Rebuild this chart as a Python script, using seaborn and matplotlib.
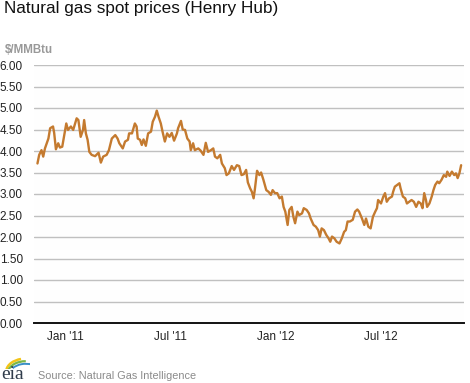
import matplotlib
matplotlib.use("Agg")
import matplotlib.pyplot as plt
import seaborn as sns
import pandas as pd
from matplotlib.patches import Arc

# ---- data ----
dates = [
    "2010-11-13", "2010-11-16", "2010-11-20", "2010-11-23", "2010-11-26", "2010-12-02", "2010-12-05",
    "2010-12-10", "2010-12-12", "2010-12-15", "2010-12-19", "2010-12-22", "2010-12-26", "2011-01-02",
    "2011-01-05", "2011-01-10", "2011-01-14", "2011-01-20", "2011-01-23", "2011-01-27", "2011-01-31",
    "2011-02-02", "2011-02-05", "2011-02-08", "2011-02-11", "2011-02-15", "2011-02-21", "2011-02-27",
    "2011-03-03", "2011-03-07", "2011-03-13", "2011-03-17", "2011-03-22", "2011-03-28", "2011-04-01",
    "2011-04-04", "2011-04-10", "2011-04-14", "2011-04-19", "2011-04-21", "2011-04-26", "2011-05-01",
    "2011-05-04", "2011-05-06", "2011-05-10", "2011-05-13", "2011-05-16", "2011-05-20", "2011-05-24",
    "2011-05-29", "2011-06-01", "2011-06-05", "2011-06-08", "2011-06-11", "2011-06-15", "2011-06-18",
    "2011-06-22", "2011-06-26", "2011-06-30", "2011-07-04", "2011-07-08", "2011-07-13", "2011-07-15",
    "2011-07-20", "2011-07-23", "2011-07-27", "2011-07-31", "2011-08-04", "2011-08-06", "2011-08-10",
    "2011-08-13", "2011-08-19", "2011-08-23", "2011-08-28", "2011-09-01", "2011-09-05", "2011-09-10",
    "2011-09-14", "2011-09-17", "2011-09-21", "2011-09-26", "2011-09-29", "2011-10-04", "2011-10-07",
    "2011-10-11", "2011-10-16", "2011-10-20", "2011-10-25", "2011-10-29", "2011-11-02", "2011-11-06",
    "2011-11-10", "2011-11-13", "2011-11-17", "2011-11-20", "2011-11-23", "2011-11-25", "2011-11-29",
    "2011-12-03", "2011-12-06", "2011-12-10", "2011-12-15", "2011-12-19", "2011-12-23", "2011-12-26",
    "2011-12-30", "2012-01-03", "2012-01-07", "2012-01-11", "2012-01-14", "2012-01-17", "2012-01-21",
    "2012-01-24", "2012-01-28", "2012-01-31", "2012-02-03", "2012-02-07", "2012-02-10", "2012-02-15",
    "2012-02-18", "2012-02-23", "2012-02-27", "2012-03-01", "2012-03-06", "2012-03-10", "2012-03-14",
    "2012-03-17", "2012-03-20", "2012-03-24", "2012-03-28", "2012-04-01", "2012-04-04", "2012-04-07",
    "2012-04-11", "2012-04-15", "2012-04-20", "2012-04-24", "2012-04-28", "2012-05-01", "2012-05-04",
    "2012-05-08", "2012-05-13", "2012-05-17", "2012-05-21", "2012-05-24", "2012-05-29", "2012-06-02",
    "2012-06-05", "2012-06-09", "2012-06-13", "2012-06-17", "2012-06-21", "2012-06-24", "2012-06-26",
    "2012-07-01", "2012-07-05", "2012-07-08", "2012-07-11", "2012-07-15", "2012-07-20", "2012-07-22",
    "2012-07-25", "2012-07-29", "2012-08-02", "2012-08-04", "2012-08-08", "2012-08-12", "2012-08-15",
    "2012-08-19", "2012-08-23", "2012-08-27", "2012-08-31", "2012-09-04", "2012-09-08", "2012-09-11",
    "2012-09-14", "2012-09-17", "2012-09-19", "2012-09-23", "2012-09-27", "2012-09-30", "2012-10-03",
    "2012-10-07", "2012-10-10", "2012-10-14", "2012-10-18", "2012-10-22", "2012-10-24", "2012-10-28",
    "2012-11-01", "2012-11-05", "2012-11-08", "2012-11-11", "2012-11-14", "2012-11-17",
]
prices = [
    3.71, 3.91, 4.02, 3.87, 4.06, 4.29, 4.53,
    4.57, 4.42, 4.04, 4.18, 4.08, 4.10, 4.64,
    4.49, 4.57, 4.49, 4.76, 4.72, 4.33, 4.49,
    4.72, 4.41, 4.26, 3.98, 3.91, 3.88, 3.96,
    3.73, 3.87, 3.91, 4.02, 4.29, 4.37, 4.29,
    4.18, 4.06, 4.22, 4.26, 4.41, 4.41, 4.64,
    4.57, 4.29, 4.26, 4.14, 4.27, 4.12, 4.41,
    4.45, 4.68, 4.80, 4.94, 4.80, 4.64, 4.45,
    4.22, 4.41, 4.33, 4.42, 4.24, 4.41, 4.53,
    4.70, 4.50, 4.49, 4.29, 4.22, 4.02, 4.18,
    4.02, 4.06, 4.01, 3.91, 4.19, 3.98, 4.02,
    4.06, 3.87, 3.83, 3.91, 3.71, 3.60, 3.44,
    3.48, 3.65, 3.56, 3.67, 3.65, 3.44, 3.46,
    3.56, 3.27, 3.13, 3.05, 2.90, 3.09, 3.54,
    3.44, 3.50, 3.33, 3.09, 3.05, 2.98, 3.09,
    3.02, 3.02, 2.90, 2.94, 2.70, 2.59, 2.28,
    2.63, 2.70, 2.47, 2.32, 2.59, 2.51, 2.55,
    2.67, 2.63, 2.55, 2.43, 2.28, 2.24, 2.16,
    2.01, 2.20, 2.16, 2.05, 1.97, 1.89, 2.01,
    1.97, 1.89, 1.85, 1.97, 2.12, 2.16, 2.36,
    2.36, 2.40, 2.59, 2.64, 2.59, 2.43, 2.28,
    2.43, 2.24, 2.20, 2.47, 2.59, 2.67, 2.86,
    2.78, 2.94, 3.02, 2.82, 2.90, 2.94, 3.05,
    3.17, 3.21, 3.25, 3.13, 2.94, 2.90, 2.78,
    2.82, 2.86, 2.82, 2.70, 2.82, 2.78, 2.67,
    3.02, 2.86, 2.70, 2.78, 2.94, 3.09, 3.21,
    3.29, 3.25, 3.33, 3.44, 3.40, 3.52, 3.42,
    3.52, 3.44, 3.48, 3.37, 3.48, 3.67,
]
xtick_dates = ["2011-01-01", "2011-07-01", "2012-01-01", "2012-07-01"]
xtick_labels = ["Jan '11", "Jul '11", "Jan '12", "Jul '12"]
ytick_values = [0, 0.5, 1, 1.5, 2, 2.5, 3, 3.5, 4, 4.5, 5, 5.5, 6]

title = "Natural gas spot prices (Henry Hub)"
unit_label = "$/MMBtu"
source = "Source: Natural Gas Intelligence"

# ---- plot ----
sns.set_theme(style="white")
plt.rcParams["font.family"] = ["Liberation Sans", "DejaVu Sans"]

df = pd.DataFrame({"date": pd.to_datetime(dates), "price": prices})

fig = plt.figure(figsize=(4.70, 3.83), dpi=100)
ax = fig.add_axes([34 / 470, 1 - 323 / 383, 430 / 470, 258 / 383])

sns.lineplot(data=df, x="date", y="price", ax=ax, color="#C47A2F", linewidth=1.7)

ax.set_xlim(pd.Timestamp("2010-11-07"), pd.Timestamp("2012-11-22"))
ax.set_ylim(0, 6)
ax.set_yticks(ytick_values)
ax.set_yticklabels([f"{v:.2f}" for v in ytick_values], fontsize=8.5, color="#222222")
ax.set_xticks(pd.to_datetime(xtick_dates))
ax.set_xticklabels(xtick_labels, fontsize=8.5, color="#222222")
ax.set_xlabel("")
ax.set_ylabel("")

for v in ytick_values[1:]:
    ax.axhline(v, color="#c0c0c0", linewidth=1.0, zorder=0)

for s in ["top", "right", "left"]:
    ax.spines[s].set_visible(False)
ax.spines["bottom"].set_color("#111111")
ax.spines["bottom"].set_linewidth(1.4)
ax.tick_params(axis="y", length=0, pad=8)
ax.tick_params(axis="x", length=4, width=1, color="#111111", direction="out", pad=2)
ax.patch.set_facecolor("#fefefe")

fig.text(4 / 470, 1 - 1 / 383, title, fontsize=12.3, color="#111111", ha="left", va="top")
fig.text(5 / 470, 1 - 50 / 383, unit_label, fontsize=8.3, color="#999999", ha="left", va="center",
         fontweight="bold")
fig.text(38 / 470, 1 - 376 / 383, source, fontsize=7.8, color="#8a8a8a", ha="left", va="center")

# eia mark
fig.text(1 / 470, 1 - 379 / 383, "eia", fontsize=14, color="#2f3b4a", ha="left", va="baseline",
         family=["Liberation Serif", "DejaVu Serif"])
lax = fig.add_axes([2 / 470, 1 - 369 / 383, 28 / 470, 13 / 383])
lax.set_xlim(0, 1)
lax.set_ylim(0, 1)
lax.axis("off")
lax.add_patch(Arc((0.85, -0.2), 1.4, 2.0, theta1=100, theta2=170, color="#f2c418", linewidth=1.8))
lax.add_patch(Arc((0.85, -0.35), 1.3, 1.9, theta1=90, theta2=165, color="#7ab648", linewidth=1.6))
lax.add_patch(Arc((0.85, -0.5), 1.2, 1.8, theta1=75, theta2=130, color="#3a8fc8", linewidth=1.4))

fig.savefig("out.png", dpi=100)
